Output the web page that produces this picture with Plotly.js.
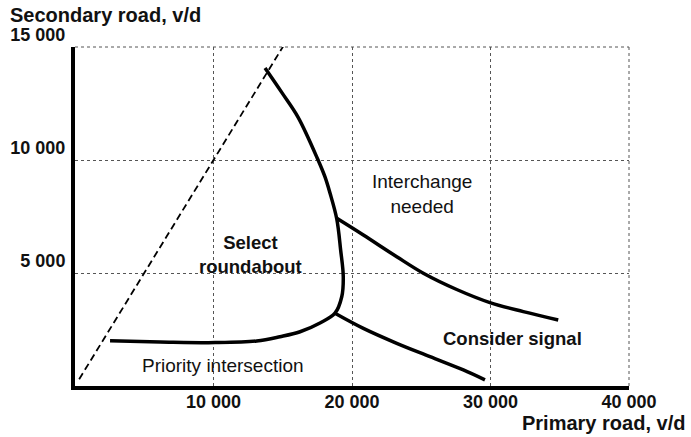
<!DOCTYPE html>
<html>
<head>
<meta charset="utf-8">
<script src="https://cdn.plot.ly/plotly-3.0.1.min.js"></script>
<style>html,body{margin:0;padding:0;background:#fff;}#chart{width:691px;height:437px;}</style>
</head>
<body>
<div id="chart"></div>
<script>
// Boundary: roundabout (top) curving down into priority-intersection boundary
const roundaboutX = [13720, 14950, 16100, 17550, 18050, 18410, 18900, 19180, 19370, 19260, 18770, 17690, 16250, 14800, 13120, 10110, 6140, 2530];
const roundaboutY = [14070, 12970, 11900, 10000, 9250, 8540, 7390, 6020, 4840, 3950, 3220, 2790, 2400, 2180, 1990, 1920, 1950, 2000];
// Interchange boundary
const interchangeX = [18900, 20820, 23230, 25150, 27560, 29960, 32370, 34890];
const interchangeY = [7420, 6680, 5720, 4990, 4270, 3690, 3290, 2920];
// Signal / priority boundary
const signalX = [18770, 20820, 23230, 25630, 28040, 29600];
const signalY = [3220, 2550, 1890, 1300, 710, 270];
// Dashed diagonal (secondary = primary)
const diagX = [300, 15200];
const diagY = [300, 15200];

const xTickVals = [10000, 20000, 30000, 40000];
const xTickText = ['10 000', '20 000', '30 000', '40 000'];
const yTickVals = [5000, 10000, 15000];
const yTickText = ['5 000', '10 000', '15 000'];

const xTitle = 'Primary road, v/d';
const yTitle = 'Secondary road, v/d';
const regionLabels = ['Interchange<br>needed', '<b>Select<br>roundabout</b>', 'Priority intersection', '<b>Consider signal</b>'];
const regionX = [25050, 12640, 10650, 31590];
const regionY = [8500, 5840, 890, 2080];
const regionSize = [19, 18.5, 19, 18.5];

const F = 'Liberation Sans, Arial, sans-serif';
const curve = {mode: 'lines', line: {color: '#000', width: 3.5, shape: 'spline', smoothing: 1}, hoverinfo: 'skip', showlegend: false};

const traces = [
  {x: diagX, y: diagY, mode: 'lines', line: {color: '#000', width: 1.8, dash: '7px,4px'}, showlegend: false, cliponaxis: false},
  Object.assign({x: roundaboutX, y: roundaboutY}, curve),
  Object.assign({x: interchangeX, y: interchangeY}, curve),
  Object.assign({x: signalX, y: signalY}, curve)
];

const annotations = regionLabels.map((t, i) => ({
  x: regionX[i], y: regionY[i], xref: 'x', yref: 'y', text: t, showarrow: false,
  font: {family: F, size: regionSize[i], color: '#111'}, xanchor: 'center', yanchor: 'middle'
}));
annotations.push({x: -0.121, y: 1.094, xref: 'paper', yref: 'paper', text: '<b>' + yTitle + '</b>', showarrow: false,
  xanchor: 'left', yanchor: 'middle', font: {family: F, size: 20, color: '#111'}});
annotations.push({x: 1.105, y: -0.109, xref: 'paper', yref: 'paper', text: '<b>' + xTitle + '</b>', showarrow: false,
  xanchor: 'right', yanchor: 'middle', font: {family: F, size: 20, color: '#111'}});

const layout = {
  width: 691, height: 437,
  margin: {l: 75, r: 62, t: 47, b: 51},
  paper_bgcolor: '#fff', plot_bgcolor: '#fff',
  showlegend: false,
  xaxis: {
    range: [0, 40000], tickvals: xTickVals, ticktext: xTickText, ticks: '',
    showgrid: true, gridcolor: '#555', gridwidth: 1, griddash: 'dot',
    zeroline: false, showline: true, linecolor: '#000', linewidth: 4,
    ticklabelstandoff: -4,
    tickfont: {family: F, size: 18, color: '#111', weight: 'bold'}, fixedrange: true
  },
  yaxis: {
    range: [0, 15000], tickvals: yTickVals, ticktext: yTickText, ticks: '',
    showgrid: true, gridcolor: '#555', gridwidth: 1, griddash: 'dot',
    zeroline: false, showline: true, linecolor: '#000', linewidth: 4,
    ticklabelshift: -12, ticklabelstandoff: 2,
    tickfont: {family: F, size: 18, color: '#111', weight: 'bold'}, fixedrange: true
  },
  shapes: [
    {type: 'line', xref: 'paper', yref: 'paper', x0: 0, x1: 1, y0: 1, y1: 1, line: {color: '#555', width: 1, dash: 'dot'}},
    {type: 'line', xref: 'paper', yref: 'paper', x0: 1, x1: 1, y0: 0, y1: 1, line: {color: '#555', width: 1, dash: 'dot'}}
  ],
  annotations: annotations
};

Plotly.newPlot('chart', traces, layout, {displayModeBar: false, staticPlot: true});
</script>
</body>
</html>
